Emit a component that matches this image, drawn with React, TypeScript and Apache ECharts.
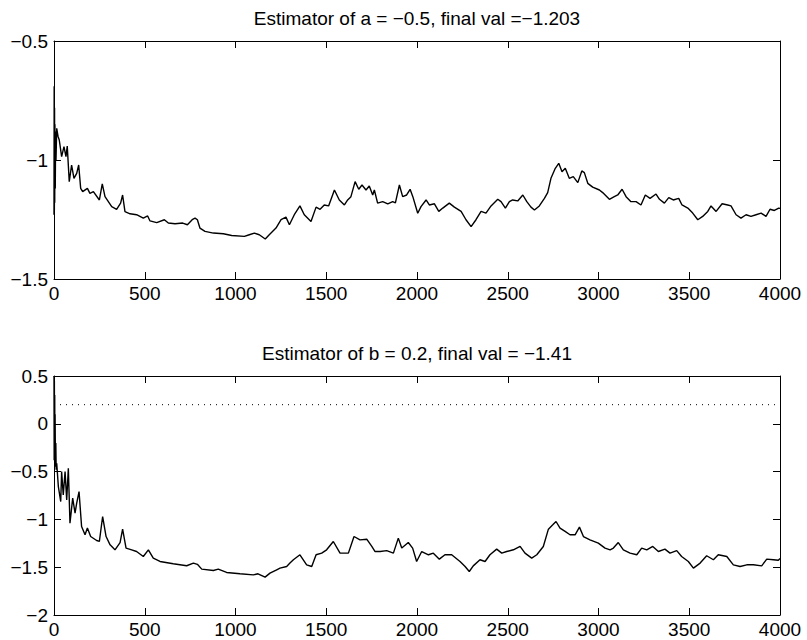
import React, { useEffect, useRef } from "react";
import * as echarts from "echarts";

// Estimator of a (top panel): iteration index and estimate
const aIter = [0, 1, 2, 3, 4, 5, 7, 9, 11, 15, 22, 29, 42, 55, 66, 73, 84, 97, 110, 125, 136, 147, 158, 184, 198, 217, 250, 266, 281, 318, 345, 367, 378, 391, 419, 455, 492, 516, 529, 566, 608, 630, 667, 709, 735, 764, 777, 790, 804, 832, 878, 933, 979, 1049, 1076, 1104, 1131, 1164, 1186, 1223, 1251, 1278, 1297, 1324, 1355, 1379, 1416, 1444, 1466, 1489, 1513, 1545, 1572, 1600, 1618, 1636, 1659, 1679, 1697, 1719, 1737, 1756, 1765, 1783, 1811, 1839, 1866, 1881, 1903, 1921, 1943, 1962, 1977, 2004, 2022, 2050, 2068, 2096, 2120, 2142, 2178, 2206, 2243, 2270, 2298, 2325, 2353, 2380, 2408, 2445, 2463, 2487, 2509, 2527, 2555, 2583, 2605, 2628, 2647, 2674, 2702, 2720, 2738, 2762, 2781, 2799, 2817, 2839, 2861, 2886, 2908, 2922, 2941, 2968, 3005, 3023, 3060, 3087, 3106, 3130, 3152, 3179, 3207, 3234, 3258, 3284, 3317, 3336, 3363, 3387, 3412, 3442, 3460, 3492, 3519, 3547, 3574, 3602, 3620, 3648, 3681, 3712, 3730, 3758, 3785, 3813, 3840, 3868, 3896, 3923, 3945, 3969, 3993, 4000];
const aValues = [-1.23, -0.69, -1.21, -0.78, -1.18, -0.85, -1.12, -0.88, -1.0, -0.867, -0.9, -0.916, -0.986, -0.944, -0.986, -0.941, -1.091, -1.021, -1.077, -1.056, -1.021, -1.119, -1.133, -1.119, -1.14, -1.133, -1.168, -1.1, -1.154, -1.196, -1.207, -1.181, -1.147, -1.217, -1.226, -1.23, -1.244, -1.235, -1.256, -1.263, -1.251, -1.265, -1.268, -1.265, -1.272, -1.249, -1.244, -1.251, -1.286, -1.3, -1.307, -1.31, -1.317, -1.321, -1.314, -1.307, -1.314, -1.332, -1.314, -1.286, -1.251, -1.24, -1.272, -1.23, -1.193, -1.23, -1.258, -1.198, -1.207, -1.189, -1.193, -1.126, -1.168, -1.189, -1.168, -1.154, -1.091, -1.123, -1.105, -1.126, -1.109, -1.147, -1.126, -1.181, -1.175, -1.184, -1.175, -1.18, -1.105, -1.154, -1.147, -1.123, -1.154, -1.224, -1.196, -1.168, -1.189, -1.184, -1.216, -1.202, -1.181, -1.198, -1.216, -1.251, -1.28, -1.251, -1.216, -1.223, -1.193, -1.165, -1.175, -1.202, -1.175, -1.168, -1.172, -1.147, -1.175, -1.198, -1.21, -1.193, -1.161, -1.137, -1.077, -1.035, -1.014, -1.049, -1.035, -1.077, -1.07, -1.095, -1.046, -1.053, -1.098, -1.114, -1.126, -1.137, -1.165, -1.154, -1.147, -1.123, -1.154, -1.175, -1.175, -1.189, -1.147, -1.161, -1.143, -1.165, -1.181, -1.158, -1.168, -1.161, -1.189, -1.202, -1.223, -1.251, -1.237, -1.216, -1.193, -1.216, -1.184, -1.189, -1.193, -1.23, -1.244, -1.23, -1.237, -1.23, -1.223, -1.237, -1.207, -1.212, -1.202, -1.203];

// Estimator of b (bottom panel): iteration index and estimate
const bIter = [0, 1, 2, 3, 4, 5, 6, 8, 10, 12, 15, 24, 37, 42, 51, 61, 70, 79, 88, 103, 116, 125, 138, 152, 171, 184, 202, 235, 250, 268, 287, 309, 336, 364, 378, 397, 428, 455, 492, 520, 547, 584, 657, 731, 768, 790, 814, 878, 905, 951, 1025, 1098, 1124, 1163, 1190, 1227, 1245, 1282, 1300, 1319, 1355, 1392, 1420, 1444, 1475, 1502, 1539, 1576, 1622, 1653, 1686, 1723, 1751, 1769, 1797, 1833, 1870, 1897, 1916, 1952, 1976, 1998, 2026, 2063, 2090, 2123, 2154, 2191, 2237, 2265, 2288, 2310, 2347, 2375, 2402, 2439, 2467, 2494, 2531, 2568, 2595, 2632, 2660, 2696, 2724, 2748, 2766, 2788, 2816, 2843, 2871, 2895, 2917, 2953, 2999, 3036, 3064, 3082, 3109, 3137, 3174, 3211, 3238, 3266, 3299, 3330, 3366, 3394, 3431, 3458, 3495, 3523, 3560, 3596, 3633, 3660, 3707, 3743, 3780, 3817, 3853, 3899, 3927, 3964, 3991, 4000];
const bValues = [0.5, -0.38, 0.45, -0.3, 0.3, -0.4, 0.1, -0.45, -0.2, -0.48, -0.412, -0.657, -0.813, -0.5, -0.743, -0.5, -0.796, -0.465, -1.04, -0.778, -0.935, -0.83, -0.709, -1.075, -1.161, -1.091, -1.179, -1.221, -1.23, -0.97, -1.179, -1.266, -1.318, -1.242, -1.102, -1.3, -1.318, -1.336, -1.388, -1.318, -1.405, -1.44, -1.464, -1.485, -1.457, -1.47, -1.52, -1.534, -1.52, -1.555, -1.569, -1.58, -1.569, -1.604, -1.562, -1.527, -1.51, -1.493, -1.457, -1.422, -1.37, -1.475, -1.493, -1.37, -1.353, -1.318, -1.231, -1.353, -1.353, -1.179, -1.214, -1.207, -1.283, -1.336, -1.336, -1.327, -1.353, -1.196, -1.3, -1.242, -1.3, -1.44, -1.336, -1.37, -1.353, -1.416, -1.37, -1.37, -1.44, -1.493, -1.545, -1.486, -1.422, -1.44, -1.37, -1.311, -1.353, -1.336, -1.318, -1.283, -1.353, -1.405, -1.37, -1.283, -1.102, -1.057, -1.022, -1.091, -1.126, -1.161, -1.161, -1.081, -1.179, -1.214, -1.248, -1.3, -1.318, -1.3, -1.242, -1.318, -1.353, -1.37, -1.3, -1.318, -1.283, -1.336, -1.311, -1.353, -1.327, -1.388, -1.44, -1.51, -1.457, -1.38, -1.422, -1.37, -1.388, -1.475, -1.493, -1.475, -1.475, -1.486, -1.416, -1.422, -1.427, -1.41];

// True value of b (dotted reference line)
const bTrue = 0.2;
const iterRange = [0, 4000];

const titles = [
  "Estimator of a = \u22120.5, final val =\u22121.203",
  "Estimator of b = 0.2, final val = \u22121.41",
];

const FONT = '"Liberation Sans", Arial, Helvetica, sans-serif';

export default function App() {
  const ref = useRef<HTMLDivElement>(null);

  useEffect(() => {
    if (!ref.current) return;
    const chart = echarts.init(ref.current, null, { renderer: "svg" });

    const fmt = (v: number) => String(v).replace("-", "\u2212");

    const grids = [
      { left: 54, top: 41, width: 726, height: 238 },
      { left: 54, top: 376, width: 726, height: 239 },
    ];

    const xAxis = (gridIndex: number, position: string, labels: boolean) => ({
      type: "value",
      gridIndex,
      position,
      min: 0,
      max: 4000,
      interval: 500,
      axisLine: { show: true, onZero: false, lineStyle: { color: "#000", width: 1 } },
      axisTick: { show: true, inside: true, length: 7, lineStyle: { color: "#000", width: 1 } },
      axisLabel: {
        show: labels,
        margin: 5,
        color: "#000",
        fontSize: 19,
        fontFamily: FONT,
        showMinLabel: true,
        showMaxLabel: true,
        formatter: fmt,
      },
      splitLine: { show: false },
    });

    const yAxis = (gridIndex: number, position: string, labels: boolean, min: number, max: number) => ({
      type: "value",
      gridIndex,
      position,
      min,
      max,
      interval: 0.5,
      axisLine: { show: true, onZero: false, lineStyle: { color: "#000", width: 1 } },
      axisTick: { show: true, inside: true, length: 7, lineStyle: { color: "#000", width: 1 } },
      axisLabel: {
        show: labels,
        margin: 6,
        color: "#000",
        fontSize: 19,
        fontFamily: FONT,
        showMinLabel: true,
        showMaxLabel: true,
        formatter: fmt,
      },
      splitLine: { show: false },
    });

    const aData = aIter.map((x, i) => [x, aValues[i]]);
    const bData = bIter.map((x, i) => [x, bValues[i]]);

    chart.setOption({
      animation: false,
      backgroundColor: "#fff",
      grid: grids,
      xAxis: [
        xAxis(0, "bottom", true),
        xAxis(1, "bottom", true),
        xAxis(0, "top", false),
        xAxis(1, "top", false),
      ],
      yAxis: [
        yAxis(0, "left", true, -1.5, -0.5),
        yAxis(1, "left", true, -2, 0.5),
        yAxis(0, "right", false, -1.5, -0.5),
        yAxis(1, "right", false, -2, 0.5),
      ],
      graphic: [
        {
          type: "text",
          x: 417,
          y: 18.5,
          style: { text: titles[0], fontSize: 19, fontFamily: FONT, fill: "#000", align: "center", verticalAlign: "middle" },
        },
        {
          type: "text",
          x: 417,
          y: 353.5,
          style: { text: titles[1], fontSize: 19, fontFamily: FONT, fill: "#000", align: "center", verticalAlign: "middle" },
        },
      ],
      series: [
        {
          type: "line",
          xAxisIndex: 0,
          yAxisIndex: 0,
          data: aData,
          showSymbol: false,
          symbol: "none",
          clip: true,
          lineStyle: { color: "#000", width: 1.4 },
        },
        {
          type: "line",
          xAxisIndex: 1,
          yAxisIndex: 1,
          data: bData,
          showSymbol: false,
          symbol: "none",
          clip: true,
          lineStyle: { color: "#000", width: 1.4 },
        },
        {
          type: "line",
          xAxisIndex: 1,
          yAxisIndex: 1,
          data: [
            [iterRange[0], bTrue],
            [iterRange[1], bTrue],
          ],
          showSymbol: false,
          symbol: "none",
          lineStyle: { color: "#000", width: 1, type: [1, 5] },
        },
      ],
    });

    return () => chart.dispose();
  }, []);

  return (
    <div
      ref={ref}
      style={{ position: "absolute", left: 0, top: 0, width: 807, height: 640, background: "#fff" }}
    />
  );
}
